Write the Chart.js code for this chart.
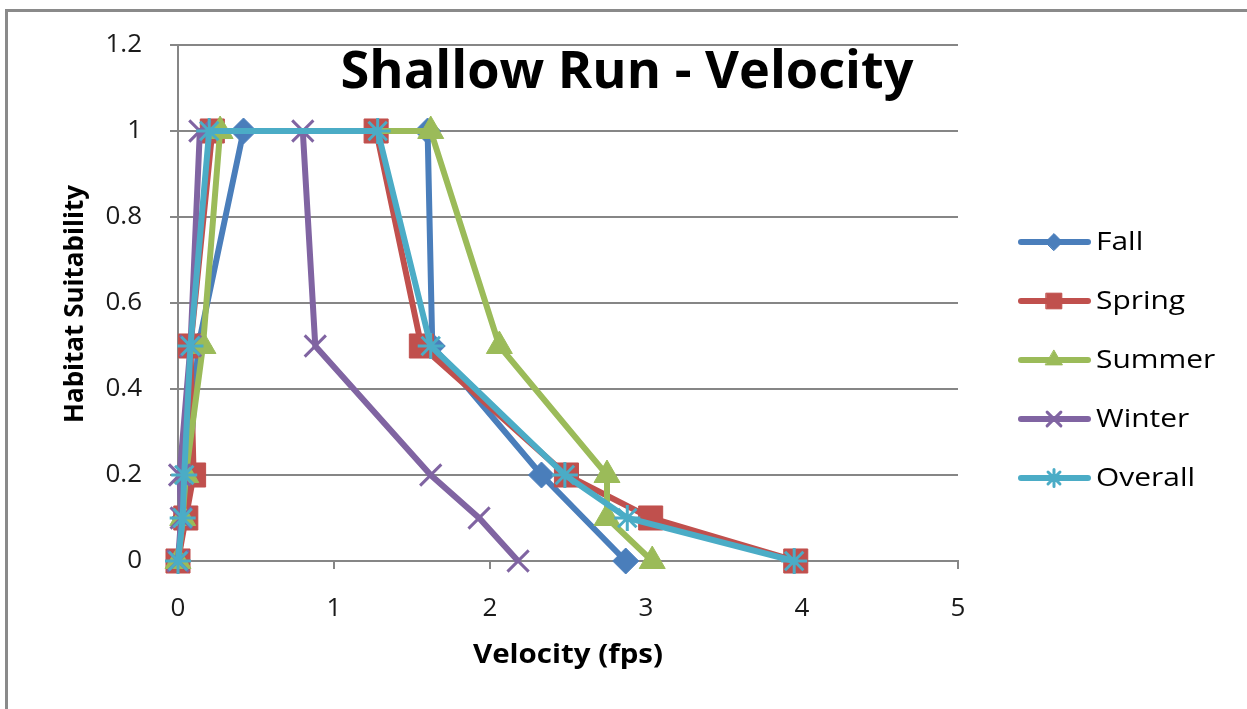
<!DOCTYPE html>
<html>
<head>
<meta charset="utf-8">
<script src="https://cdn.jsdelivr.net/npm/chart.js@4/dist/chart.umd.min.js"></script>
<style>
  html, body { margin: 0; padding: 0; background: #fff; overflow: hidden; }
  #frame { position: absolute; left: 5px; top: 9px; width: 1400px; height: 900px; border: 3px solid #8a8a8a; box-sizing: border-box; }
  #wrap { position: absolute; left: 0; top: 0; width: 1247px; height: 709px; }
</style>
</head>
<body>
<div id="frame"></div>
<div id="wrap"><canvas id="chart" width="1247" height="709"></canvas></div>
<script>
// values
const seriesNames = ["Fall", "Spring", "Summer", "Winter", "Overall"]
const fallX = [0, 0.04, 0.07, 0.13, 0.42, 1.6, 1.63, 2.33, 2.87]
const fallY = [0, 0.1, 0.2, 0.5, 1, 1, 0.5, 0.2, 0]
const springX = [0, 0.05, 0.1, 0.08, 0.22, 1.27, 1.56, 2.49, 3.03, 3.96]
const springY = [0, 0.1, 0.2, 0.5, 1, 1, 0.5, 0.2, 0.1, 0]
const summerX = [0, 0.03, 0.05, 0.16, 0.27, 1.62, 2.06, 2.75, 2.75, 3.04]
const summerY = [0, 0.1, 0.2, 0.5, 1, 1, 0.5, 0.2, 0.1, 0]
const winterX = [0, 0.02, 0.01, 0.08, 0.14, 0.8, 0.88, 1.62, 1.93, 2.18]
const winterY = [0, 0.1, 0.2, 0.5, 1, 1, 0.5, 0.2, 0.1, 0]
const overallX = [0, 0.03, 0.04, 0.08, 0.2, 1.28, 1.62, 2.48, 2.88, 3.95]
const overallY = [0, 0.1, 0.2, 0.5, 1, 1, 0.5, 0.2, 0.1, 0]
const yTicks = [0, 0.2, 0.4, 0.6, 0.8, 1, 1.2]
const xTicks = [0, 1, 2, 3, 4, 5]

const colors = ["#4a7ebb", "#c0504d", "#9bbb59", "#8064a2", "#4bacc6"]
const markers = ["rectRot", "rect", "triangle", "crossRot", "star"]
const markerSizes = [13, 17, 15, 15, 13]
const FONT = "'Open Sans', Lato, 'DejaVu Sans', sans-serif"

const pts = (xs, ys) => xs.map((x, i) => ({ x: x, y: ys[i] }))
const allData = [pts(fallX, fallY), pts(springX, springY), pts(summerX, summerY), pts(winterX, winterY), pts(overallX, overallY)]

const isCross = (s) => s === "crossRot" || s === "star"

const datasets = seriesNames.map((name, i) => ({
  label: name,
  data: allData[i],
  showLine: true,
  borderColor: colors[i],
  backgroundColor: colors[i],
  borderWidth: 6,
  tension: 0,
  pointStyle: markers[i],
  pointRadius: markerSizes[i],
  pointBorderWidth: isCross(markers[i]) ? 3 : 1,
  pointBorderColor: colors[i],
  pointBackgroundColor: colors[i],
  order: seriesNames.length - i,
  clip: false,
}))

// draws text squeezed/stretched to a given width
function fitText(ctx, text, x, y, font, width) {
  ctx.font = font
  const w = ctx.measureText(text).width
  ctx.save()
  ctx.translate(x, y)
  ctx.scale(width / w, 1)
  ctx.fillText(text, 0, 0)
  ctx.restore()
}

// title, axis titles and legend drawn by hand so they sit where Excel put them
const decorations = {
  id: "decorations",
  afterDraw(chart) {
    const ctx = chart.ctx
    ctx.save()
    ctx.fillStyle = "#000"
    ctx.textBaseline = "middle"
    ctx.textAlign = "center"

    fitText(ctx, "Shallow Run - Velocity", 627, 73, `bold 52px ${FONT}`, 573)
    fitText(ctx, "Velocity (fps)", 568, 655, `bold 27px ${FONT}`, 190)
    ctx.save()
    ctx.translate(75, 304)
    ctx.rotate(-Math.PI / 2)
    fitText(ctx, "Habitat Suitability", 0, 0, `bold 27px ${FONT}`, 238)
    ctx.restore()

    // legend
    ctx.font = `26px ${FONT}`
    const sx = 99 / ctx.measureText("Overall").width
    ctx.textAlign = "left"
    chart.data.datasets.forEach((ds, i) => {
      const y = 242 + i * 59
      ctx.strokeStyle = ds.borderColor
      ctx.lineWidth = 6
      ctx.lineCap = "round"
      ctx.beginPath()
      ctx.moveTo(1021, y)
      ctx.lineTo(1088, y)
      ctx.stroke()
      ctx.fillStyle = ds.borderColor
      ctx.lineWidth = ds.pointBorderWidth
      Chart.helpers.drawPoint(ctx, {
        pointStyle: ds.pointStyle,
        radius: ds.pointRadius * 0.65,
        rotation: 0,
        borderWidth: ds.pointBorderWidth,
      }, 1054, y)
      ctx.fillStyle = "#000"
      ctx.save()
      ctx.translate(1096, y + 1)
      ctx.scale(sx, 1)
      ctx.fillText(ds.label, 0, 0)
      ctx.restore()
    })
    ctx.restore()
  },
}

new Chart(document.getElementById("chart"), {
  type: "scatter",
  data: { datasets: datasets },
  options: {
    responsive: false,
    animation: false,
    devicePixelRatio: 1,
    layout: { padding: { left: 0, right: 289, top: 45, bottom: 0 } },
    plugins: {
      legend: { display: false },
      tooltip: { enabled: false },
      title: { display: false },
    },
    scales: {
      x: {
        type: "linear",
        min: 0,
        max: 5,
        afterBuildTicks: (scale) => { scale.ticks = xTicks.map((v) => ({ value: v })) },
        afterFit: (scale) => { scale.height = 148 },
        ticks: { color: "#1a1a1a", font: { family: FONT, size: 26 }, padding: 24, callback: (v) => String(v) },
        grid: { drawOnChartArea: false, drawTicks: true, tickLength: 8, color: "#868686", lineWidth: 2 },
        border: { display: true, color: "#868686", width: 2 },
      },
      y: {
        type: "linear",
        min: 0,
        max: 1.2,
        afterBuildTicks: (scale) => { scale.ticks = yTicks.map((v) => ({ value: v })) },
        afterFit: (scale) => { scale.width = 178 },
        ticks: { color: "#1a1a1a", font: { family: FONT, size: 26 }, padding: 28, callback: (v) => String(v) },
        grid: { color: "#868686", lineWidth: 2, drawTicks: true, tickLength: 8 },
        border: { display: true, color: "#868686", width: 2 },
      },
    },
  },
  plugins: [decorations],
})
</script>
</body>
</html>
